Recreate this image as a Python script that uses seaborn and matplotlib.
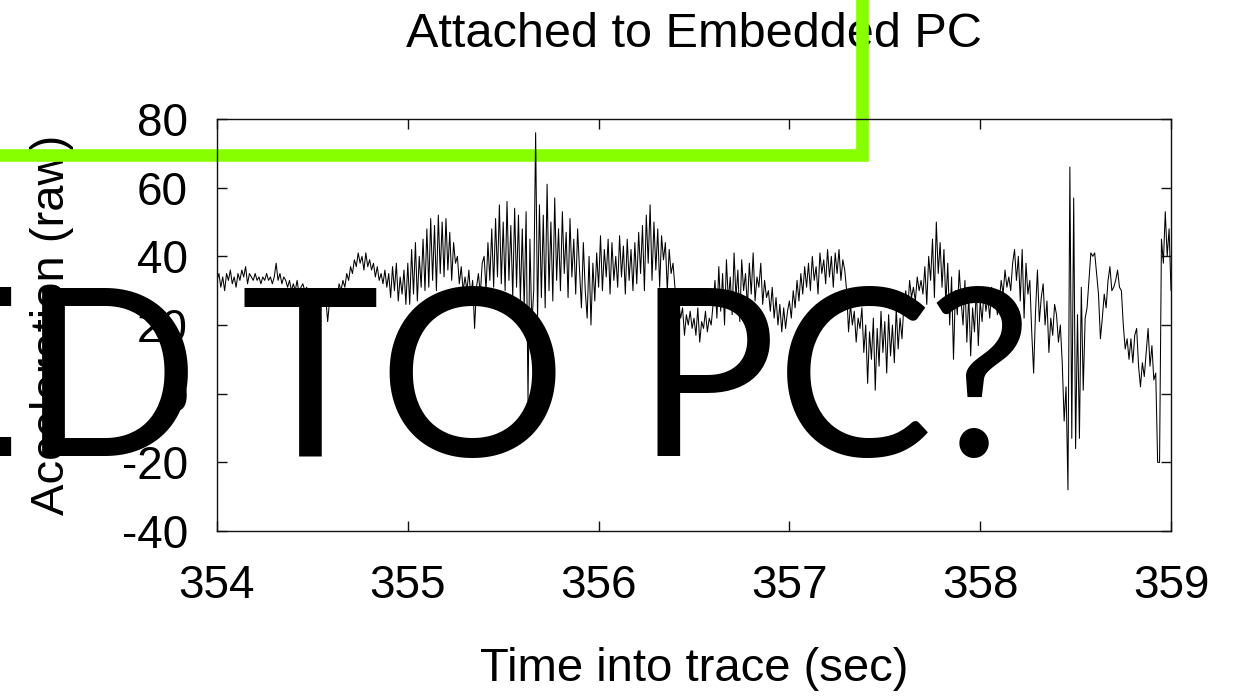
import numpy as np
import pandas as pd
import seaborn as sns
import matplotlib
matplotlib.use("Agg")
import matplotlib.pyplot as plt
from matplotlib.lines import Line2D

# Accelerometer trace sampled at 100 Hz, starting 354 s into the recording
start_sec = 354.0
sample_step = 0.01
accel = [
    33, 35, 31, 34, 30, 35, 33, 36, 32, 34,
    31, 35, 33, 36, 34, 37, 32, 35, 34, 33,
    35, 33, 34, 32, 34, 33, 35, 33, 34, 32,
    34, 38, 33, 35, 32, 34, 33, 31, 33, 30,
    32, 30, 33, 29, 31, 32, 30, 31, 29, 30,
    29, 27, 30, 28, 26, 29, 27, 28, 21, 27,
    29, 27, 30, 28, 32, 30, 33, 31, 35, 33,
    37, 35, 39, 37, 41, 38, 40, 36, 41, 37,
    39, 36, 38, 34, 37, 33, 35, 32, 36, 31,
    35, 28, 37, 30, 38, 27, 34, 29, 36, 26,
    38, 26, 42, 29, 44, 27, 40, 31, 45, 30,
    48, 31, 51, 33, 49, 30, 52, 35, 50, 34,
    51, 36, 47, 33, 44, 38, 40, 32, 37, 30,
    34, 30, 36, 28, 33, 19, 31, 35, 29, 38,
    40, 30, 44, 33, 48, 31, 51, 34, 55, 32,
    50, 30, 56, 33, 49, 28, 54, 31, 52, 27,
    48, 25, 53, -2, 45, 20, 30, 76, 22, 55,
    28, 52, 25, 61, 30, 50, 27, 57, 33, 48,
    30, 53, 35, 47, 28, 51, 34, 45, 29, 48,
    36, 25, 44, 30, 22, 40, 20, 38, 27, 41,
    31, 46, 30, 42, 34, 45, 29, 44, 33, 40,
    31, 46, 34, 43, 29, 45, 33, 42, 30, 44,
    32, 47, 35, 49, 30, 52, 38, 55, 33, 50,
    36, 48, 31, 46, 39, 44, 30, 42, 35, 38,
    31, 29, 26, 22, 25, 17, 23, 20, 24, 19,
    22, 17, 25, 15, 21, 19, 24, 18, 22, 20,
    26, 33, 22, 37, 24, 35, 20, 39, 27, 34,
    23, 41, 28, 36, 21, 39, 30, 35, 25, 38,
    29, 41, 27, 34, 31, 38, 26, 33, 28, 30,
    24, 31, 22, 28, 20, 26, 18, 25, 19, 24,
    27, 22, 30, 25, 33, 27, 35, 29, 37, 31,
    38, 30, 40, 33, 37, 29, 41, 35, 39, 32,
    42, 34, 40, 31, 41, 35, 42, 33, 39, 36,
    30, 18, 26, 20, 24, 15, 22, 19, 25, 12,
    20, 3, 18, 10, 22, 1, 19, 8, 24, 12,
    21, 6, 23, 11, 20, 9, 25, 13, 22, 16,
    26, 30, 24, 33, 28, 31, 27, 34, 30, 33,
    29, 37, 26, 40, 33, 45, 28, 50, 35, 44,
    31, 42, 26, 38, 20, 34, 10, 30, 23, 36,
    27, 20, 33, 15, 29, 11, 25, 18, 31, 14,
    27, 21, 30, 24, 28, 22, 31, 25, 29, 23,
    27, 33, 29, 36, 31, 34, 30, 38, 42, 33,
    40, 27, 42, 22, 38, 29, 33, 18, 6, 24,
    36, 21, 28, 32, 20, 27, 12, 22, 17, 26,
    23, 15, 20, 9, -8, 2, -28, 66, -13, 57,
    -16, 23, -13, 31, 1, 22, 25, 33, 41, 40,
    41, 35, 29, 16, 22, 29, 25, 33, 37, 30,
    31, 33, 36, 31, 30, 20, 13, 16, 10, 16,
    9, 17, 19, 8, 2, 9, 5, 12, 19, 8,
    14, 4, 6, -20, -20, 45, 38, 53, 40, 48,
    30,
]
time_sec = start_sec + sample_step * np.arange(len(accel))

x_ticks = [354, 355, 356, 357, 358, 359]
y_ticks = [-40, -20, 0, 20, 40, 60, 80]

title = "Attached to Embedded PC"
x_label = "Time into trace (sec)"
y_label = "Acceleration (raw)"
# overlay caption, split into the pieces that are set individually
overlay_words = ["ED", "TO", "PC", "?"]

sns.set_style("ticks")
plt.rcParams["font.family"] = ["Liberation Sans", "DejaVu Sans"]
plt.rcParams["axes.unicode_minus"] = False
plt.rcParams["text.color"] = "black"
plt.rcParams["axes.labelcolor"] = "black"
plt.rcParams["xtick.color"] = "black"
plt.rcParams["ytick.color"] = "black"

W, H = 1251, 697
fig = plt.figure(figsize=(W / 100, H / 100), dpi=100)
ax = fig.add_axes([217 / W, 1 - 531 / H, (1171 - 217) / W, (531 - 119) / H])
ax.patch.set_visible(False)

df = pd.DataFrame({"t": time_sec, "a": accel})
sns.lineplot(data=df, x="t", y="a", ax=ax, color="black", linewidth=0.75,
             estimator=None, sort=False, zorder=2.2)

ax.set_xlim(354, 359)
ax.set_ylim(-40, 80)
ax.set_xticks(x_ticks)
ax.set_yticks(y_ticks)
ax.tick_params(direction="in", length=7, width=1, top=True, right=True,
               labelsize=33, color="#111111", labelcolor="black")
ax.tick_params(axis="x", pad=24)
ax.tick_params(axis="y", pad=21)
for s in ax.spines.values():
    s.set_visible(True)
    s.set_linewidth(1.0)
    s.set_color("#111111")

ax.set_title(title, fontsize=35, pad=52, zorder=1, color="black")
ax.set_xlabel(x_label, fontsize=34, labelpad=28, color="black")
ax.set_ylabel(y_label, fontsize=34, labelpad=34, color="black")

# green marker stroke sitting under the trace but over the axis labels
green = Line2D([0, 862 / W, 862 / W], [1 - 154.7 / H, 1 - 154.7 / H, 1.0],
               transform=fig.transFigure, color="#88FF00", linewidth=9.1,
               solid_capstyle="projecting", solid_joinstyle="miter",
               clip_on=False, zorder=1.8)
ax.add_line(green)

# large overlay caption
big = dict(fontsize=169, family=["Lato", "DejaVu Sans"], va="baseline",
           color="black", zorder=10)
baseline = 1 - 456 / H
fig.text(200 / W, baseline, overlay_words[0], ha="right", **big)
fig.text(240 / W, baseline, overlay_words[1], ha="left", **big)
fig.text(636 / W, baseline, overlay_words[2], ha="left", **big)
fig.text(926 / W, baseline, overlay_words[3], ha="left", **big)

fig.savefig("out.png", dpi=100)
